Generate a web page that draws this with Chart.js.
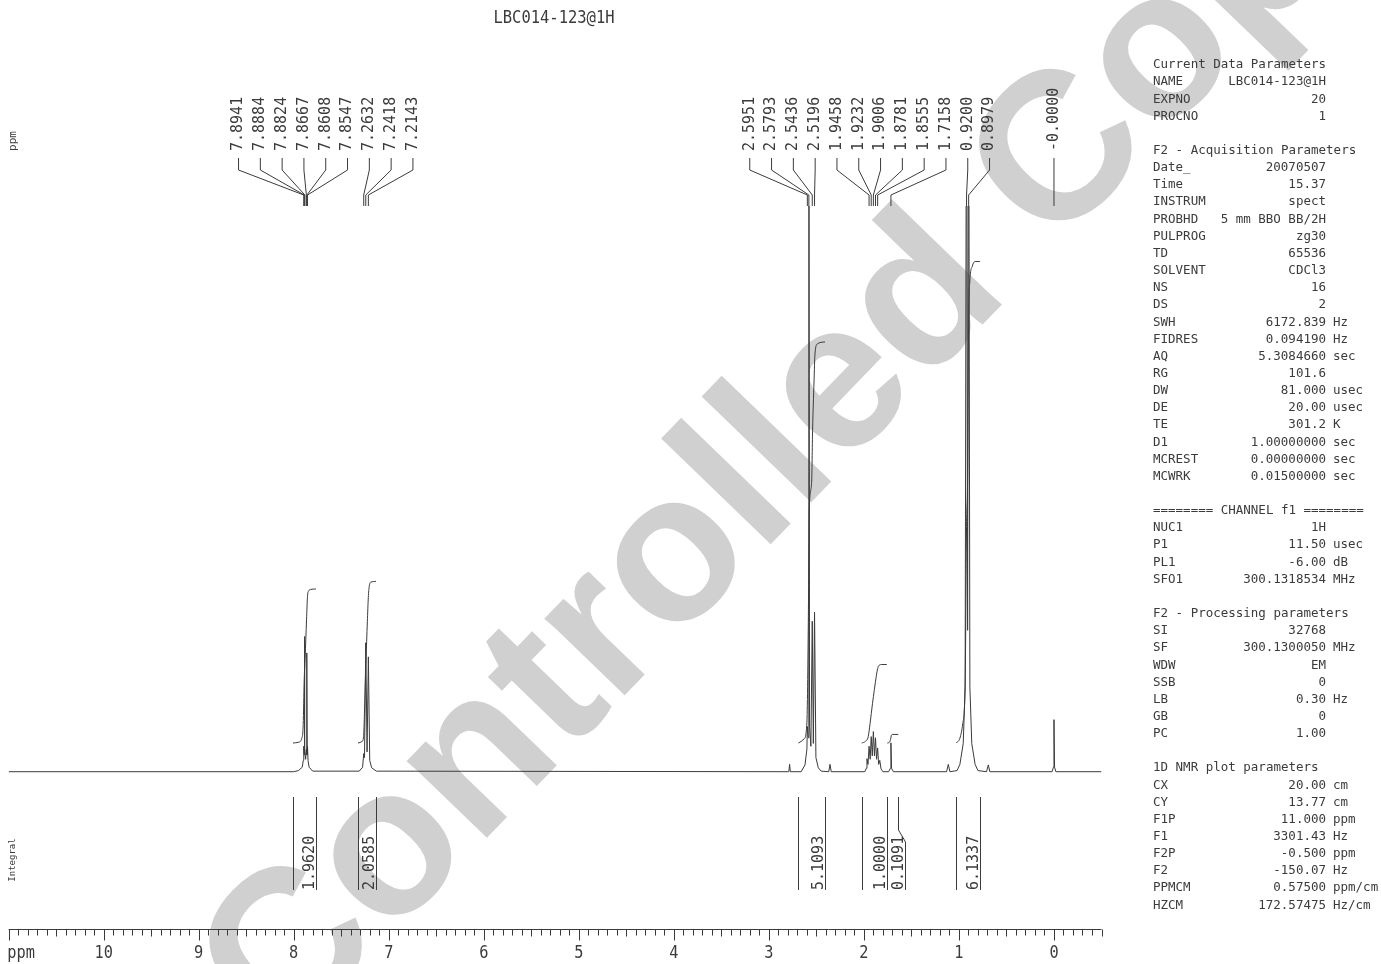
<!DOCTYPE html>
<html>
<head>
<meta charset="utf-8">
<title>LBC014-123@1H</title>
<script src="https://cdn.jsdelivr.net/npm/chart.js@4/dist/chart.umd.min.js"></script>
<style>
  html, body { margin: 0; padding: 0; background: #ffffff; }
  #wrap { position: relative; width: 1381px; height: 964px; overflow: hidden; }
  canvas { display: block; }
</style>
</head>
<body>
<div id="wrap"><canvas id="nmr" width="1381" height="964"></canvas></div>
<script>
// ---------------- spectrum data (1H, CDCl3, 300 MHz) ----------------
const specTitle = 'LBC014-123@1H';
const watermarkText = 'Controlled Copy';

// spectrum trace: chemical shift (ppm) and relative intensity
const specPpm = [11.0, 8.0, 7.95, 7.91, 7.8995, 7.8941, 7.8912, 7.8884, 7.8854, 7.8824, 7.8745, 7.8667, 7.8637, 7.8608, 7.8578, 7.8547, 7.849, 7.838, 7.80,
  7.31, 7.275, 7.2632, 7.255, 7.2418, 7.228, 7.2143, 7.20, 7.18, 7.13,
  2.80, 2.79, 2.782, 2.774, 2.66, 2.62, 2.60, 2.5951, 2.5866, 2.5793, 2.572, 2.558, 2.5436, 2.532, 2.5196, 2.505, 2.48, 2.45,
  2.37, 2.357, 2.344,
  1.99, 1.975, 1.968, 1.957, 1.9458, 1.934, 1.9232, 1.912, 1.9006, 1.889, 1.8781, 1.867, 1.8555, 1.845, 1.833, 1.82, 1.80,
  1.74, 1.722, 1.7158, 1.709, 1.69,
  1.13, 1.112, 1.095,
  1.02, 0.99, 0.955, 0.935, 0.920, 0.909, 0.8979, 0.885, 0.865, 0.83, 0.80,
  0.71, 0.691, 0.675,
  0.02, 0.006, 0.0, -0.006, -0.02, -0.5];
const specInt = [0, 0, 0.2, 0.8, 2, 4.5, 3, 23.9, 3.5, 4, 2.2, 4, 3, 21, 3, 4.5, 2, 0.8, 0.1,
  0.1, 0.8, 3.2, 2.5, 22.8, 3.5, 20.3, 2, 0.7, 0.1,
  0, 0, 1.3, 0, 0, 1.2, 4, 8, 6, 140, 8, 4.5, 26.6, 5, 28.2, 2.5, 0.7, 0.1,
  0, 1.3, 0,
  0, 0.6, 2.3, 1.3, 4.5, 2.2, 6.2, 2.8, 7.1, 2.8, 6, 2.2, 4.2, 1.3, 2, 0.5, 0,
  0, 0.6, 5.1, 0.6, 0,
  0, 1.3, 0,
  0.2, 1.3, 5, 15, 140, 25, 138, 15, 5, 1.3, 0.2,
  0, 1.2, 0,
  0, 0.8, 9.2, 0.8, 0, 0];

// picked peaks
const peakPpm = [7.8941, 7.8884, 7.8824, 7.8667, 7.8608, 7.8547, 7.2632, 7.2418, 7.2143,
  2.5951, 2.5793, 2.5436, 2.5196, 1.9458, 1.9232, 1.9006, 1.8781, 1.8555, 1.7158, 0.9200, 0.8979, 0.0000];
const peakText = ['7.8941', '7.8884', '7.8824', '7.8667', '7.8608', '7.8547', '7.2632', '7.2418', '7.2143',
  '2.5951', '2.5793', '2.5436', '2.5196', '1.9458', '1.9232', '1.9006', '1.8781', '1.8555', '1.7158', '0.9200', '0.8979', '-0.0000'];

// integral regions
const intFrom  = [8.007, 7.323, 2.690, 2.023, 1.754, 1.031];
const intTo    = [7.766, 7.134, 2.410, 1.760, 1.638, 0.780];
const intValue = [1.9620, 2.0585, 5.1093, 1.0000, 0.1091, 6.1337];
const intText  = ['1.9620', '2.0585', '5.1093', '1.0000', '0.1091', '6.1337'];
// running integral inside each region: ppm and fraction of the region total
const intTracePpm = [
  [8.007, 7.95, 7.915, 7.90, 7.89, 7.88, 7.865, 7.855, 7.845, 7.82, 7.766],
  [7.323, 7.28, 7.265, 7.25, 7.24, 7.225, 7.215, 7.205, 7.19, 7.134],
  [2.690, 2.63, 2.60, 2.585, 2.575, 2.55, 2.54, 2.525, 2.515, 2.49, 2.410],
  [2.023, 1.985, 1.955, 1.935, 1.91, 1.89, 1.87, 1.855, 1.84, 1.81, 1.760],
  [1.754, 1.73, 1.72, 1.712, 1.70, 1.638],
  [1.031, 0.99, 0.96, 0.935, 0.92, 0.909, 0.8979, 0.885, 0.86, 0.83, 0.780]
];
const intTraceFrac = [
  [0, 0.005, 0.03, 0.12, 0.4, 0.55, 0.8, 0.95, 0.985, 0.997, 1],
  [0, 0.01, 0.04, 0.3, 0.5, 0.75, 0.9, 0.97, 0.995, 1],
  [0, 0.01, 0.05, 0.3, 0.58, 0.65, 0.78, 0.9, 0.97, 0.995, 1],
  [0, 0.02, 0.08, 0.25, 0.5, 0.68, 0.85, 0.95, 0.99, 1, 1],
  [0, 0.1, 0.4, 0.85, 1, 1],
  [0, 0.01, 0.04, 0.12, 0.45, 0.55, 0.88, 0.96, 0.99, 1, 1]
];

// axis
const axisMin = -0.5, axisMax = 11.0;
const majorTicks = [10, 9, 8, 7, 6, 5, 4, 3, 2, 1, 0];

// parameter listing
const curHead = 'Current Data Parameters';
const curKeys = ['NAME', 'EXPNO', 'PROCNO'];
const curVals = ['LBC014-123@1H', '20', '1'];
const curUnits = ['', '', ''];
const acqHead = 'F2 - Acquisition Parameters';
const acqKeys = ['Date_', 'Time', 'INSTRUM', 'PROBHD', 'PULPROG', 'TD', 'SOLVENT', 'NS', 'DS', 'SWH', 'FIDRES', 'AQ', 'RG', 'DW', 'DE', 'TE', 'D1', 'MCREST', 'MCWRK'];
const acqVals = ['20070507', '15.37', 'spect', '5 mm BBO BB/2H', 'zg30', '65536', 'CDCl3', '16', '2', '6172.839', '0.094190', '5.3084660', '101.6', '81.000', '20.00', '301.2', '1.00000000', '0.00000000', '0.01500000'];
const acqUnits = ['', '', '', '', '', '', '', '', '', 'Hz', 'Hz', 'sec', '', 'usec', 'usec', 'K', 'sec', 'sec', 'sec'];
const chHead = '======== CHANNEL f1 ========';
const chKeys = ['NUC1', 'P1', 'PL1', 'SFO1'];
const chVals = ['1H', '11.50', '-6.00', '300.1318534'];
const chUnits = ['', 'usec', 'dB', 'MHz'];
const procHead = 'F2 - Processing parameters';
const procKeys = ['SI', 'SF', 'WDW', 'SSB', 'LB', 'GB', 'PC'];
const procVals = ['32768', '300.1300050', 'EM', '0', '0.30', '0', '1.00'];
const procUnits = ['', 'MHz', '', '', 'Hz', '', ''];
const plotHead = '1D NMR plot parameters';
const plotKeys = ['CX', 'CY', 'F1P', 'F1', 'F2P', 'F2', 'PPMCM', 'HZCM'];
const plotVals = ['20.00', '13.77', '11.000', '3301.43', '-0.500', '-150.07', '0.57500', '172.57475'];
const plotUnits = ['cm', 'cm', 'ppm', 'Hz', 'ppm', 'Hz', 'ppm/cm', 'Hz/cm'];

// ---------------- drawing ----------------
const INK = '#3b3b3b';
const MONO = '"DejaVu Sans Mono", "Liberation Mono", monospace';

function drawText(ctx, str, x, y, o) {
  ctx.save();
  ctx.translate(x, y);
  if (o.rot) ctx.rotate(o.rot);
  if (o.sx) ctx.scale(o.sx, 1);
  ctx.font = o.font;
  ctx.fillStyle = o.color || INK;
  ctx.textAlign = o.align || 'left';
  ctx.textBaseline = o.base || 'alphabetic';
  ctx.fillText(str, 0, 0);
  ctx.restore();
}

function spreadLabels(xs, pitch) {
  let groups = xs.map((x, i) => ({ idx: [i], c: x }));
  let merged = true;
  while (merged) {
    merged = false;
    for (let i = 0; i < groups.length - 1; i++) {
      const a = groups[i], b = groups[i + 1];
      const aR = a.c + (a.idx.length - 1) / 2 * pitch;
      const bL = b.c - (b.idx.length - 1) / 2 * pitch;
      if (bL - aR < pitch) {
        const idx = a.idx.concat(b.idx);
        const c = idx.reduce((s, k) => s + xs[k], 0) / idx.length;
        groups.splice(i, 2, { idx, c });
        merged = true;
        break;
      }
    }
  }
  const out = [];
  groups.forEach(g => g.idx.forEach((k, j) => { out[k] = g.c + (j - (g.idx.length - 1) / 2) * pitch; }));
  return out;
}

const backdrop = {
  id: 'backdrop',
  beforeDraw(chart) {
    const ctx = chart.ctx;
    ctx.save();
    ctx.fillStyle = '#ffffff';
    ctx.fillRect(0, 0, chart.width, chart.height);
    // watermark
    ctx.translate(808, 422);
    ctx.rotate(-46 * Math.PI / 180);
    ctx.font = 'bold 210px "Liberation Sans", Arial, sans-serif';
    ctx.fillStyle = '#d0d0d0';
    ctx.textAlign = 'center';
    ctx.textBaseline = 'middle';
    ctx.fillText(watermarkText, 0, 0);
    ctx.restore();
  }
};

const decorations = {
  id: 'decorations',
  afterDraw(chart) {
    const ctx = chart.ctx;
    const xs = chart.scales.x;
    const X = v => xs.getPixelForValue(v);
    ctx.save();
    ctx.strokeStyle = INK;
    ctx.lineWidth = 1;

    // title
    drawText(ctx, specTitle, 554, 18, { font: '18px ' + MONO, sx: 0.86, align: 'center', base: 'middle' });
    // side captions
    drawText(ctx, 'ppm', 13, 141, { font: '11px ' + MONO, rot: -Math.PI / 2, align: 'center', base: 'middle' });
    drawText(ctx, 'Integral', 13, 860, { font: '9px ' + MONO, rot: -Math.PI / 2, align: 'center', base: 'middle' });

    // ppm axis
    const axY = 929.5;
    ctx.beginPath();
    ctx.moveTo(X(axisMax), axY);
    ctx.lineTo(X(axisMin), axY);
    for (let k = Math.round(axisMin * 10); k <= Math.round(axisMax * 10); k++) {
      const px = Math.round(X(k / 10)) + 0.5;
      const len = (k % 10 === 0) ? 11 : (k % 5 === 0 ? 7 : 6);
      ctx.moveTo(px, axY);
      ctx.lineTo(px, axY + len);
    }
    ctx.stroke();
    majorTicks.forEach(v => drawText(ctx, String(v), X(v), 953, { font: '18px ' + MONO, sx: 0.85, align: 'center', base: 'middle' }));
    drawText(ctx, 'ppm', 35, 953, { font: '18px ' + MONO, sx: 0.85, align: 'right', base: 'middle' });

    // peak labels with leader lines
    const peakX = peakPpm.map(X);
    const labX = spreadLabels(peakX, 21.8);
    ctx.beginPath();
    peakX.forEach((px, i) => {
      const lx = labX[i];
      ctx.moveTo(lx, 158);
      ctx.lineTo(lx, 170);
      ctx.lineTo(px, 195);
      ctx.lineTo(px, 206);
    });
    ctx.stroke();
    peakText.forEach((t, i) => drawText(ctx, t, labX[i], 151, { font: '15px ' + MONO, rot: -Math.PI / 2, align: 'left', base: 'middle' }));

    // integral region markers and values
    ctx.beginPath();
    intFrom.forEach((p, i) => {
      const x0 = Math.round(X(p)) + 0.5;
      const x1 = Math.round(X(intTo[i])) + 0.5;
      const x1b = Math.max(x1, x0 + 18);
      ctx.moveTo(x0, 797);
      ctx.lineTo(x0, 890);
      ctx.moveTo(x1, 797);
      ctx.lineTo(x1, 830);
      ctx.lineTo(x1b, 842);
      ctx.lineTo(x1b, 890);
      drawText(ctx, intText[i], x1b - 3, 890, { font: '15px ' + MONO, rot: -Math.PI / 2, align: 'left', base: 'alphabetic' });
    });
    ctx.stroke();

    // parameter listing
    const rows = [];
    const section = (head, keys, vals, units) => {
      rows.push({ head });
      keys.forEach((k, i) => rows.push({ k, v: vals[i], u: units[i] }));
      rows.push(null);
    };
    section(curHead, curKeys, curVals, curUnits);
    section(acqHead, acqKeys, acqVals, acqUnits);
    section(chHead, chKeys, chVals, chUnits);
    section(procHead, procKeys, procVals, procUnits);
    section(plotHead, plotKeys, plotVals, plotUnits);
    const pf = { font: '12.5px ' + MONO, base: 'middle' };
    rows.forEach((r, i) => {
      if (!r) return;
      const y = 65 + i * 17.15;
      if (r.head) { drawText(ctx, r.head, 1153, y, pf); return; }
      drawText(ctx, r.k, 1153, y, pf);
      drawText(ctx, r.v, 1326, y, Object.assign({}, pf, { align: 'right' }));
      if (r.u) drawText(ctx, r.u, 1333, y, pf);
    });
    ctx.restore();
  }
};

const spectrum = {
  data: specPpm.map((p, i) => ({ x: p, y: specInt[i] })),
  yAxisID: 'y',
  showLine: true,
  borderColor: INK,
  borderWidth: 1,
  pointRadius: 0,
  tension: 0
};
const integrals = intTracePpm.map((ppms, r) => ({
  data: ppms.map((p, i) => ({ x: p, y: intTraceFrac[r][i] * intValue[r] })),
  yAxisID: 'yi',
  showLine: true,
  borderColor: INK,
  borderWidth: 1,
  pointRadius: 0,
  cubicInterpolationMode: 'monotone'
}));

new Chart(document.getElementById('nmr'), {
  type: 'scatter',
  data: { datasets: [spectrum].concat(integrals) },
  options: {
    responsive: false,
    animation: false,
    devicePixelRatio: 1,
    events: [],
    layout: { padding: { left: 8.6, right: 279.5, top: 206, bottom: 164 } },
    plugins: { legend: { display: false }, tooltip: { enabled: false } },
    scales: {
      x: { type: 'linear', min: axisMin, max: axisMax, reverse: true, display: false },
      y: { type: 'linear', min: -5, max: 100, display: false },
      yi: { type: 'linear', min: -0.726, max: 6.841, display: false }
    }
  },
  plugins: [backdrop, decorations]
});
</script>
</body>
</html>
